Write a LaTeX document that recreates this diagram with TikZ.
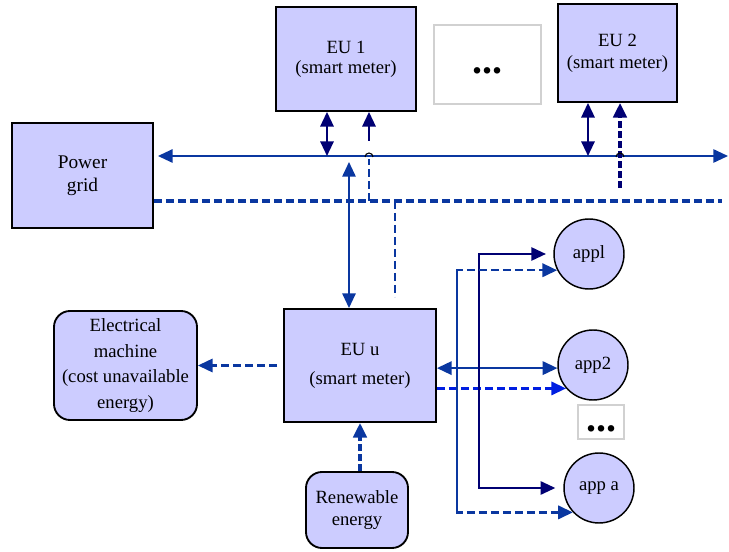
\documentclass[tikz,border=0pt]{standalone}
\usepackage{fontspec}
\setmainfont{Liberation Serif}
\usetikzlibrary{arrows.meta}
\definecolor{boxfill}{RGB}{204,204,255}
\definecolor{lblue}{RGB}{10,55,160}
\definecolor{navyc}{RGB}{0,0,115}
\definecolor{bblue}{RGB}{0,30,225}
\begin{document}
\begin{tikzpicture}[x=0.75pt,y=-0.75pt,
  box/.style={draw=black, line width=1.4pt, fill=boxfill, align=center, inner sep=0pt},
  rbox/.style={box, rounded corners=12pt},
  appnode/.style={circle, draw=black, line width=1.1pt, fill=boxfill, minimum size=52.5pt, inner sep=0pt, font=\fontsize{14}{16}\selectfont},
  gbox/.style={draw=black!18, line width=1.3pt, fill=white, inner sep=0pt},
  arr/.style={-{Triangle[length=11pt,width=10pt]}},
  dbl/.style={{Triangle[length=11pt,width=10pt]}-{Triangle[length=11pt,width=10pt]}},
  dsh/.style={dash pattern=on 6pt off 3pt},
  busline/.style={lblue, line width=1.3pt},
  navyline/.style={navyc, line width=1.6pt},
  gridline/.style={lblue, line width=2.3pt, dsh}
]
\useasboundingbox (0,0) rectangle (729,552);

% nodes
\node[box, minimum width=105.75pt, minimum height=78.75pt, font=\fontsize{14.5}{17}\selectfont] (pg) at (82.5,175.5) {Power\\grid};
\node[box, minimum width=105pt, minimum height=78pt, font=\fontsize{14}{15}\selectfont] (eu1) at (346,59) {EU 1\\(smart meter)};
\node[gbox, minimum width=80.25pt, minimum height=59.25pt] (dots1) at (487.5,64.5) {};
\node[font=\fontsize{30}{30}\selectfont\bfseries] (dt1) at (487,71) {...};
\node[box, minimum width=89.25pt, minimum height=73.5pt, font=\fontsize{14}{16.5}\selectfont] (eu2) at (617.5,53) {EU 2\\(smart meter)};
\node[box, minimum width=114pt, minimum height=84.75pt, font=\fontsize{14}{21.75}\selectfont] (euu) at (360,365.5) {EU u\\(smart meter)};
\node[rbox, minimum width=107.25pt, minimum height=81.75pt, font=\fontsize{14}{19.3}\selectfont] (em) at (125.5,365.5) {Electrical\\machine\\(cost unavailable\\energy)};
\node[rbox, minimum width=76.5pt, minimum height=57pt, font=\fontsize{14}{16.5}\selectfont] (re) at (357,510) {Renewable\\energy};
\node[appnode] (app1) at (589,254) {appl};
\node[appnode] (app2) at (593,365) {app2};
\node[appnode] (appa) at (599,488) {app a};
\node[gbox, minimum width=34.5pt, minimum height=25.5pt] (dots2) at (601,422) {};
\node[font=\fontsize{30}{30}\selectfont\bfseries] (dt2) at (601,429) {...};

% named free ends
\coordinate (busR) at (728,156);
\coordinate (gridR) at (722,201);
\coordinate (e1a) at (327,156);
\coordinate (e1b) at (369,141);
\coordinate (e1c) at (369,201);
\coordinate (e2a) at (588,156);
\coordinate (e2b) at (620,188);
\coordinate (bu) at (349,162);
\coordinate (vd1) at (395,201);
\coordinate (vd2) at (395,297);
\coordinate (nv) at (479,0);
\coordinate (dv) at (457,0);

% power grid lines
\draw[busline, dbl, shorten <=3pt] (pg.east |- busR) -- (busR);
\draw[gridline] (pg.east |- gridR) -- (gridR);

% EU 1 links
\draw[navyline, dbl] (e1a) -- (e1a |- eu1.south);
\draw[navyline, arr] (e1b) -- (e1b |- eu1.south);
\draw[lblue, line width=1.7pt, dsh] (e1c) -- ++(0,-42);
\draw[black, line width=0.8pt] (365,157) arc[start angle=180, end angle=360, radius=4];

% EU 2 links
\draw[navyline, dbl] (e2a) -- (e2a |- eu2.south);
\draw[navyc, line width=2.6pt, dash pattern=on 5pt off 2.5pt, arr] (e2b) -- (e2b |- eu2.south);
\draw[black, line width=0.8pt] (616,157) arc[start angle=180, end angle=360, radius=4];

% bus to EU u
\draw[busline, dbl] (bu) -- (bu |- euu.north);
\draw[lblue, line width=1.7pt, dsh] (vd1) -- (vd2);

% EU u to others
\draw[lblue, line width=1.7pt, dsh, arr, shorten <=4.5pt] (euu.west) -- (em.east);
\draw[lblue, line width=2.6pt, dash pattern=on 5pt off 2.5pt, arr] (euu.south |- re.north) -- (euu.south);
\draw[busline, line width=1.6pt, dbl] (euu.east |- app2.185) -- (app2.185);
\draw[bblue, line width=1.7pt, dsh, arr] (euu.east |- app2.221) -- (app2.221);

% appliance links
\draw[navyline, line width=1.4pt, arr, shorten >=5.5pt] (appa.west -| nv) -- (app1.west -| nv) -- (app1.west);
\draw[navyline, line width=1.4pt, arr, shorten >=6pt] (app1.west -| nv) -- (appa.west -| nv) -- (appa.west);
\draw[lblue, line width=1.8pt, dsh, arr] (appa.223 -| dv) -- (app1.207 -| dv) -- (app1.207);
\draw[lblue, line width=1.8pt, dsh, arr] (app1.207 -| dv) -- (appa.223 -| dv) -- (appa.223);
\end{tikzpicture}
\end{document}
